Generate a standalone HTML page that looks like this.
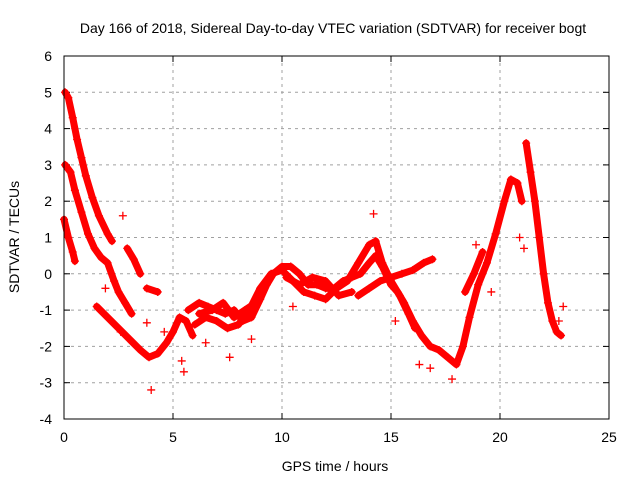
<!DOCTYPE html>
<html><head><meta charset="utf-8"><style>
body{margin:0;background:#fff;}
svg{display:block;font-family:"Liberation Sans",sans-serif;}
</style></head><body>
<svg id="chart" width="640" height="480">
<text x="333" y="33" font-size="14" text-anchor="middle">Day 166 of 2018, Sidereal Day-to-day VTEC variation (SDTVAR) for receiver bogt</text>
<text x="335" y="471" font-size="14" text-anchor="middle">GPS time / hours</text>
<text transform="translate(19,237) rotate(-90)" font-size="14" text-anchor="middle">SDTVAR / TECUs</text>
<g id="grid"></g>
<g id="axes"></g>
<g id="marks"></g>
<rect x="64" y="56" width="545" height="363" fill="none" stroke="#000" stroke-width="1"/>
</svg>
<script>
const xTicks=[0,5,10,15,20,25];
const yTicks=[-4,-3,-2,-1,0,1,2,3,4,5,6];
const trackA=[[0.05,5],[0.2,4.85],[0.4,4.3],[0.6,3.7],[0.8,3.2],[1,2.7],[1.3,2.1],[1.6,1.6],[2,1.1],[2.2,0.9]];
const trackB=[[0.05,3],[0.3,2.8],[0.5,2.3],[0.8,1.7],[1.1,1.1],[1.4,0.7],[1.7,0.45],[2,0.3],[2.3,-0.2],[2.5,-0.5],[2.8,-0.8],[3.1,-1.1]];
const trackC=[[0.0,1.5],[0.2,1.0],[0.4,0.6],[0.5,0.35]];
const trackD=[[1.5,-0.9],[2,-1.2],[2.5,-1.5],[3,-1.8],[3.5,-2.1],[3.9,-2.3],[4.3,-2.2],[4.7,-1.9],[5,-1.6],[5.3,-1.2],[5.6,-1.3],[5.9,-1.7]];
const trackE=[[2.9,0.7],[3.2,0.4],[3.5,0.0]];
const trackF=[[3.8,-0.4],[4.3,-0.5]];
const trackG=[[5.7,-1.0],[6.2,-0.8],[6.6,-0.9],[7,-1.0],[7.4,-1.1],[7.8,-1.0],[8.2,-1.3],[8.6,-1.2],[9,-0.7],[9.3,-0.3],[9.6,0.0],[10,0.2],[10.4,0.2],[10.8,0.0],[11.2,-0.3],[11.6,-0.3],[12,-0.4],[12.4,-0.4],[12.8,-0.2],[13.2,-0.1],[13.6,0.0],[14,0.3],[14.3,0.5],[14.6,0.2],[15,-0.3],[15.3,-0.5],[15.6,-0.8],[16,-1.3],[16.4,-1.7],[16.8,-2.0],[17.2,-2.1],[17.6,-2.3],[18,-2.5],[18.3,-2.0],[18.6,-1.2],[19,-0.3],[19.4,0.3],[19.8,1.1],[20.2,2.0],[20.5,2.6],[20.8,2.5],[21,2.0]];
const trackH=[[6,-1.4],[6.5,-1.2],[7,-1.3],[7.5,-1.5],[8,-1.4],[8.5,-1.0],[9,-0.4],[9.5,0.0],[10,0.1],[10.5,-0.2],[11,-0.5],[11.5,-0.6],[12,-0.7],[12.5,-0.4],[13,-0.2],[13.5,0.3],[14,0.8],[14.3,0.9],[14.6,0.3],[15,-0.2],[15.4,-0.6],[15.8,-1.1],[16.1,-1.5]];
const trackI=[[13.5,-0.6],[14,-0.4],[14.5,-0.2],[15,-0.1],[15.5,0.0],[16,0.1],[16.5,0.3],[16.9,0.4]];
const trackJ=[[21.2,3.6],[21.4,2.8],[21.6,2.0],[21.8,1.0],[22,0.0],[22.2,-0.8],[22.4,-1.3],[22.6,-1.6],[22.8,-1.7]];
const trackK=[[18.4,-0.5],[18.8,0.0],[19.2,0.6]];
const trackL=[[6.2,-1.1],[6.8,-1.0],[7.3,-0.8],[7.8,-1.2],[8.3,-1.0],[8.8,-0.8]];
const trackM=[[10.2,-0.1],[10.8,-0.3],[11.4,-0.1],[12,-0.2],[12.6,-0.6],[13.2,-0.5]];
const tracks=[trackA,trackB,trackC,trackD,trackE,trackF,trackG,trackH,trackI,trackJ,trackK,trackL,trackM];
const scatter=[[4,-3.2],[3.8,-1.35],[2.7,1.6],[5.5,-2.7],[5.4,-2.4],[7.6,-2.3],[8.6,-1.8],[14.2,1.65],[18.9,0.8],[19.6,-0.5],[21.1,0.7],[20.9,1.0],[16.3,-2.5],[15.2,-1.3],[16.8,-2.6],[17.8,-2.9],[22.7,-1.3],[22.9,-0.9],[10.5,-0.9],[2.6,-1.6],[1.9,-0.4],[4.6,-1.6],[6.5,-1.9]];
const x=v=>64+v*(545/25), y=v=>419-(v+4)*(363/10);
const NS='http://www.w3.org/2000/svg';
function mk(t,a,p){const e=document.createElementNS(NS,t);for(const k in a)e.setAttribute(k,a[k]);p.appendChild(e);return e;}
const grid=document.getElementById('grid'),axes=document.getElementById('axes'),marks=document.getElementById('marks');
xTicks.forEach(t=>{
 if(t>0&&t<25){const g=mk('line',{x1:x(t),x2:x(t),y1:56,y2:419,stroke:'#a0a0a0','stroke-dasharray':'3,4'},grid);}
 mk('line',{x1:x(t),x2:x(t),y1:419,y2:413,stroke:'#000'},axes);mk('line',{x1:x(t),x2:x(t),y1:56,y2:62,stroke:'#000'},axes);
 const l=mk('text',{x:x(t),y:442,'font-size':14,'text-anchor':'middle'},axes);l.textContent=t;
 
 
});
yTicks.forEach(t=>{
 if(t>-4&&t<6){const g=mk('line',{x1:64,x2:609,y1:y(t),y2:y(t),stroke:'#a0a0a0','stroke-dasharray':'3,4'},grid);}
 mk('line',{x1:64,x2:70,y1:y(t),y2:y(t),stroke:'#000'},axes);mk('line',{x1:609,x2:603,y1:y(t),y2:y(t),stroke:'#000'},axes);
 const l=mk('text',{x:52,y:y(t)+5,'font-size':14,'text-anchor':'end'},axes);l.textContent=t;
 
 
});
function plus(px,py){
 const g=mk('path',{d:`M${x(px)-4},${y(py)}h8M${x(px)},${y(py)-4}v8`,stroke:'#f00','stroke-width':1.3,fill:'none'},marks);
 
 
}
tracks.forEach(tr=>{
 const p=mk('polyline',{points:tr.map(d=>x(d[0])+','+y(d[1])).join(' '),fill:'none',stroke:'#f00','stroke-width':7,'stroke-linejoin':'round','stroke-linecap':'round'},marks);
 
 
 tr.forEach(d=>plus(d[0],d[1]));
});
scatter.forEach(d=>plus(d[0],d[1]));
</script>
</body></html>
